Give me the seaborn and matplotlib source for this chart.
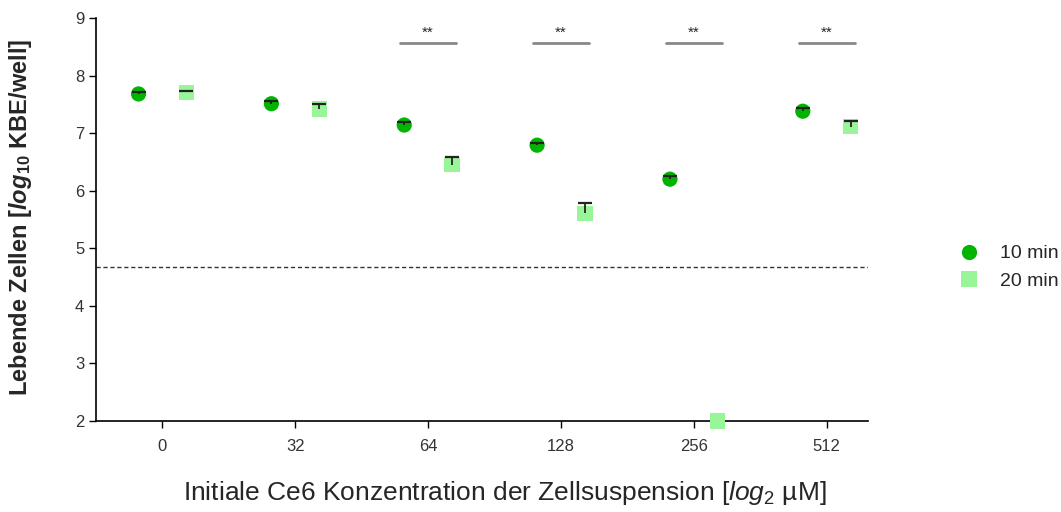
import numpy as np
import pandas as pd
import matplotlib
matplotlib.use("Agg")
import matplotlib.pyplot as plt
import seaborn as sns

# data
conc = ["0", "32", "64", "128", "256", "512"]
min10 = [7.68, 7.51, 7.14, 6.79, 6.20, 7.38]
min10_err = [0.03, 0.04, 0.05, 0.04, 0.06, 0.05]
min20 = [7.71, 7.42, 6.45, 5.61, 2.00, 7.11]
min20_err = [0.02, 0.08, 0.14, 0.17, 0.0, 0.10]
signif = ["64", "128", "256", "512"]
detect_limit = 4.67

sns.set_style("ticks")
plt.rcParams["font.family"] = ["Liberation Sans", "DejaVu Sans"]
plt.rcParams["mathtext.fontset"] = "custom"
plt.rcParams["mathtext.rm"] = "Liberation Sans"
plt.rcParams["mathtext.it"] = "Liberation Sans:italic"
plt.rcParams["mathtext.bf"] = "Liberation Sans:bold"
try:
    plt.rcParams["mathtext.bfit"] = "Liberation Sans:bold:italic"
except KeyError:
    pass

idx = np.arange(len(conc))
off = 0.18
df = pd.DataFrame({
    "x": np.concatenate([idx - off, idx + off]),
    "y": min10 + min20,
    "err": min10_err + min20_err,
    "time": ["10 min"] * len(conc) + ["20 min"] * len(conc),
})

fig = plt.figure(figsize=(10.61, 5.12), dpi=100)
ax = fig.add_axes([0.0905, 0.1777, 0.7275, 0.7873])

palette = {"10 min": "#00b400", "20 min": "#98f598"}
markers = {"10 min": "o", "20 min": "s"}
sns.scatterplot(data=df, x="x", y="y", hue="time", style="time",
                palette=palette, markers=markers, s=120, linewidth=0,
                ax=ax, zorder=3, clip_on=False, legend=True)

# upper-only error bars
for t in ["10 min", "20 min"]:
    d = df[df.time == t]
    d = d[d.err > 0]
    _, caps, _ = ax.errorbar(d.x, d.y, yerr=[np.zeros(len(d)), d.err],
                             fmt="none", ecolor="#222222", elinewidth=1.3,
                             capsize=5, capthick=1.6, zorder=4)
    caps[0].set_visible(False)

ax.axhline(detect_limit, color="#333333", linestyle=(0, (3, 2)), linewidth=1)

for c in signif:
    i = conc.index(c)
    ax.plot([i - 0.21, i + 0.21], [8.57, 8.57], color="#888888", linewidth=2)
    ax.text(i, 8.62, "**", ha="center", va="bottom", fontsize=11)

ax.set_xlim(-0.5, 5.31)
ax.set_ylim(2, 9)
ax.set_xticks(idx)
ax.set_xticklabels(conc)
ax.set_yticks(range(2, 10))
ax.tick_params(axis="both", labelsize=12, length=5, width=1, direction="out",
               colors="black", labelcolor="#333333")
ax.tick_params(axis="x", pad=8)
sns.despine(ax=ax)
for s in ["left", "bottom"]:
    ax.spines[s].set_linewidth(1.2)
    ax.spines[s].set_color("black")

ax.set_xlabel(r"Initiale Ce6 Konzentration der Zellsuspension [$\mathit{log}_2$ µM]",
              fontsize=19)
ax.xaxis.set_label_coords(0.53, -0.145)
ax.set_ylabel(r"Lebende Zellen [$\mathbfit{log}_{\mathbf{10}}$ KBE/well]",
              fontsize=17, fontweight="bold")
ax.yaxis.set_label_coords(-0.08, 0.505)

h, l = ax.get_legend_handles_labels()
ax.get_legend().remove()
fig.legend(h, l, loc="center left", bbox_to_anchor=(0.878, 0.478),
           frameon=False, fontsize=14, handletextpad=0.6, labelspacing=0.5,
           markerscale=1.0)

fig.savefig("out.png", dpi=100)
